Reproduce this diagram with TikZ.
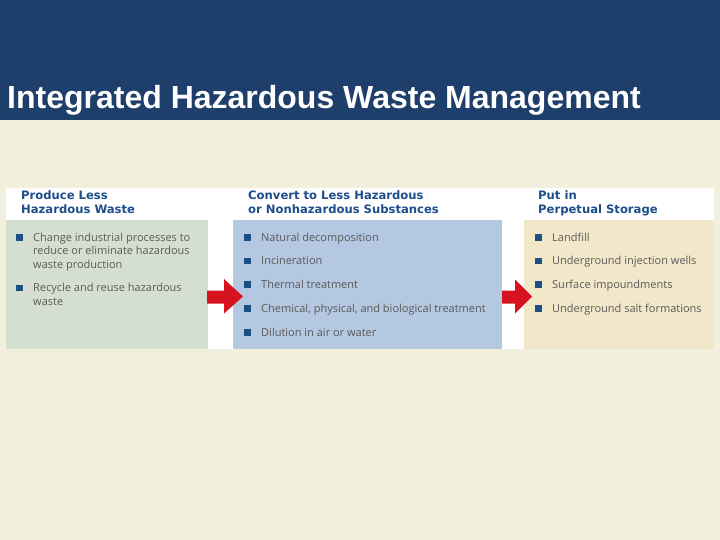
\documentclass[tikz,border=0pt]{standalone}
\usepackage{fontspec}
\setmainfont{Liberation Sans}
\newfontfamily\headfont{DejaVu Sans}
\newfontfamily\itemfont{Open Sans}
\definecolor{bannerblue}{HTML}{1E3E6B}
\definecolor{pagebg}{HTML}{F2EFDC}
\definecolor{pgreen}{HTML}{D5DFCF}
\definecolor{pblue}{HTML}{B4C8E1}
\definecolor{ptan}{HTML}{F2E7C9}
\definecolor{headblue}{HTML}{1D4D8A}
\definecolor{bulletblue}{HTML}{1C4F86}
\definecolor{itemgray}{HTML}{5A5A5A}
\definecolor{arrowred}{HTML}{D7131F}
\begin{document}
\begin{tikzpicture}[x=1pt,y=-1pt,
  panel/.style={anchor=north west, inner sep=0pt, outer sep=0pt},
  headtxt/.style={anchor=base west, inner sep=0pt, text=headblue, font=\headfont\bfseries\fontsize{11.6}{13}\selectfont},
  itemtxt/.style={anchor=base west, inner sep=0pt, text=itemgray, font=\itemfont\fontsize{11}{13}\selectfont},
  bul/.style={fill=bulletblue, minimum size=6.5pt, inner sep=0pt, anchor=center},
  redarrow/.style={fill=arrowred, draw=none}]
\useasboundingbox (0,0) rectangle (720,540);
\fill[pagebg] (0,0) rectangle (720,540);
\node[panel, fill=bannerblue, minimum width=720pt, minimum height=120pt] (banner) at (0,0) {};
\node[anchor=base west, inner sep=0pt, text=white, font=\bfseries\fontsize{32}{38}\selectfont] (title) at (7,109) {Integrated Hazardous Waste Management};
% white strip
\node[panel, fill=white, minimum width=708pt, minimum height=160pt] (strip) at (6,188.5) {};
% panels
\node[panel, fill=pgreen, minimum width=202pt, minimum height=128pt] (p1) at (6,220.5) {};
\node[panel, fill=pblue, minimum width=269pt, minimum height=128pt] (p2) at (233,220.5) {};
\node[panel, fill=ptan, minimum width=190pt, minimum height=128pt] (p3) at (524,220.5) {};
% headings
\node[headtxt] (h1a) at (21,199.5) {Produce Less};
\node[headtxt] (h1b) at (21,213.5) {Hazardous Waste};
\node[headtxt] (h2a) at (248,199.5) {Convert to Less Hazardous};
\node[headtxt] (h2b) at (248,213.5) {or Nonhazardous Substances};
\node[headtxt] (h3a) at (538,199.5) {Put in};
\node[headtxt] (h3b) at (538,213.5) {Perpetual Storage};
% panel 1 items
\node[bul] (b11) at (19.5,237.5) {};
\node[itemtxt] (t11a) at (33,241) {Change industrial processes to};
\node[itemtxt] (t11b) at (33,254.5) {reduce or eliminate hazardous};
\node[itemtxt] (t11c) at (33,268) {waste production};
\node[bul] (b12) at (19.5,288) {};
\node[itemtxt] (t12a) at (33,291.5) {Recycle and reuse hazardous};
\node[itemtxt] (t12b) at (33,305) {waste};
% panel 2 items
\node[bul] (b21) at (247.5,237.5) {};
\node[itemtxt] (t21) at (261,241) {Natural decomposition};
\node[bul] (b22) at (247.5,261) {};
\node[itemtxt] (t22) at (261,264.5) {Incineration};
\node[bul] (b23) at (247.5,284.5) {};
\node[itemtxt] (t23) at (261,288) {Thermal treatment};
\node[bul] (b24) at (247.5,308.5) {};
\node[itemtxt] (t24) at (261,312) {Chemical, physical, and biological treatment};
\node[bul] (b25) at (247.5,332.5) {};
\node[itemtxt] (t25) at (261,336) {Dilution in air or water};
% panel 3 items
\node[bul] (b31) at (538.5,237.5) {};
\node[itemtxt] (t31) at (552,241) {Landfill};
\node[bul] (b32) at (538.5,261) {};
\node[itemtxt] (t32) at (552,264.5) {Underground injection wells};
\node[bul] (b33) at (538.5,284.5) {};
\node[itemtxt] (t33) at (552,288) {Surface impoundments};
\node[bul] (b34) at (538.5,308.5) {};
\node[itemtxt] (t34) at (552,312) {Underground salt formations};
% arrows
\fill[redarrow] (207,290.5) -- (224,290.5) -- (224,279) -- (243,296.5) -- (224,313.5) -- (224,303.5) -- (207,303.5) -- cycle;
\fill[redarrow] (502,290.5) -- (515,290.5) -- (515,279.5) -- (532,296.5) -- (515,313.5) -- (515,303.5) -- (502,303.5) -- cycle;
\end{tikzpicture}
\end{document}
